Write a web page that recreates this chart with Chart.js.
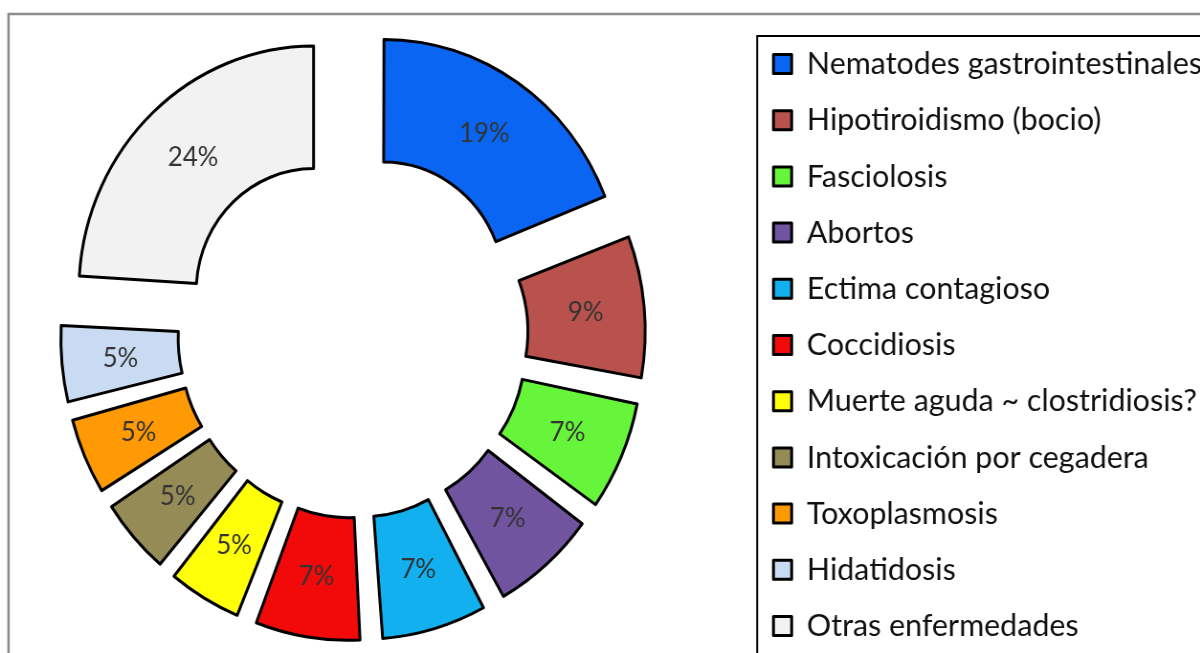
<!DOCTYPE html>
<html>
<head>
<meta charset="utf-8">
<script src="https://cdn.jsdelivr.net/npm/chart.js@4.4.0/dist/chart.umd.min.js"></script>
<style>
  html, body { margin: 0; padding: 0; background: #fff; overflow: hidden; width: 1200px; height: 653px; }
  #wrap { position: absolute; left: 0; top: 0; width: 1254px; height: 680px; transform: scaleX(0.957); transform-origin: 0 0; overflow: visible; }
  #box { position: absolute; left: -46.5px; top: 0; width: 1300.5px; height: 680px; }
</style>
</head>
<body>
<div id="wrap"><div id="box"><canvas id="c"></canvas></div></div>
<script>
// ---- data ----
const categories = [
  'Nematodes gastrointestinales',
  'Hipotiroidismo (bocio)',
  'Fasciolosis',
  'Abortos',
  'Ectima contagioso',
  'Coccidiosis',
  'Muerte aguda ~ clostridiosis?',
  'Intoxicación por cegadera',
  'Toxoplasmosis',
  'Hidatidosis',
  'Otras enfermedades'
];
const percentages = [19, 9, 7, 7, 7, 7, 5, 5, 5, 5, 24];
const sliceColors = [
  '#0a66f2', '#b9524d', '#66f53a', '#7154a0', '#12b0ef', '#f20a0a',
  '#ffff0a', '#958b57', '#ff9a05', '#c9dbf2', '#f2f2f2'
];

// ---- styling constants ----
const EXPLODE = 60.3;         // distance each slice is pulled out (px)
const total = percentages.reduce((a, b) => a + b, 0);

function sliceOffset(ctx) {
  const circ = percentages[ctx.dataIndex] / total * 2 * Math.PI;
  const fix = 1 - Math.sin(Math.min(Math.PI, circ));
  return 4 * EXPLODE / (1 + fix);
}

const framePlugin = {
  id: 'frames',
  beforeDraw(chart) {
    const ctx = chart.ctx;
    ctx.save();
    ctx.fillStyle = '#ffffff';
    ctx.fillRect(0, 0, chart.width, chart.height);
    ctx.strokeStyle = '#8c8c8c';
    ctx.lineWidth = 2.5;
    ctx.strokeRect(54.9, 14, chart.width + 40, chart.height + 40);
    ctx.restore();
  },
  afterDraw(chart) {
    const ctx = chart.ctx;
    const lg = chart.legend;
    ctx.save();
    ctx.strokeStyle = '#000000';
    ctx.lineWidth = 2;
    ctx.strokeRect(lg.left + 7.4, lg.top + 36, chart.width, chart.height);
    ctx.restore();
  }
};

const labelPlugin = {
  id: 'pctLabels',
  afterDatasetsDraw(chart) {
    const ctx = chart.ctx;
    const meta = chart.getDatasetMeta(0);
    ctx.save();
    ctx.font = '27px Lato';
    ctx.fillStyle = '#333333';
    ctx.textAlign = 'center';
    ctx.textBaseline = 'middle';
    meta.data.forEach((arc, i) => {
      const p = arc.getProps(['x', 'y', 'startAngle', 'endAngle', 'innerRadius', 'outerRadius', 'circumference'], true);
      const T = (arc.options.offset || 0) / 4;
      const fix = 1 - Math.sin(Math.min(Math.PI, p.circumference));
      const mid = (p.startAngle + p.endAngle) / 2;
      const rad = T + T * fix + (p.innerRadius + p.outerRadius) / 2;
      ctx.fillText(percentages[i] + '%', p.x + Math.cos(mid) * rad, p.y + Math.sin(mid) * rad);
    });
    ctx.restore();
  }
};

new Chart(document.getElementById('c'), {
  type: 'doughnut',
  data: {
    labels: categories,
    datasets: [{
      data: percentages,
      backgroundColor: sliceColors,
      borderColor: '#000000',
      borderWidth: 3,
      borderJoinStyle: 'round',
      offset: sliceOffset,
      hoverOffset: 0
    }]
  },
  options: {
    responsive: true,
    maintainAspectRatio: false,
    animation: false,
    radius: 245.2,
    cutout: '50%',
    layout: { padding: { left: 0, right: 0, top: 0, bottom: 9.6 } },
    events: [],
    plugins: {
      tooltip: { enabled: false },
      legend: {
        position: 'right',
        align: 'start',
        maxWidth: 470.7,
        title: { display: true, text: ' ', font: { size: 10 }, padding: { top: 0, bottom: 11.7 } },
        labels: {
          boxWidth: 19,
          boxHeight: 19,
          padding: 24.4,
          color: '#111111',
          font: { family: 'Lato', size: 31.8 }
        }
      }
    }
  },
  plugins: [framePlugin, labelPlugin]
});
</script>
</body>
</html>
